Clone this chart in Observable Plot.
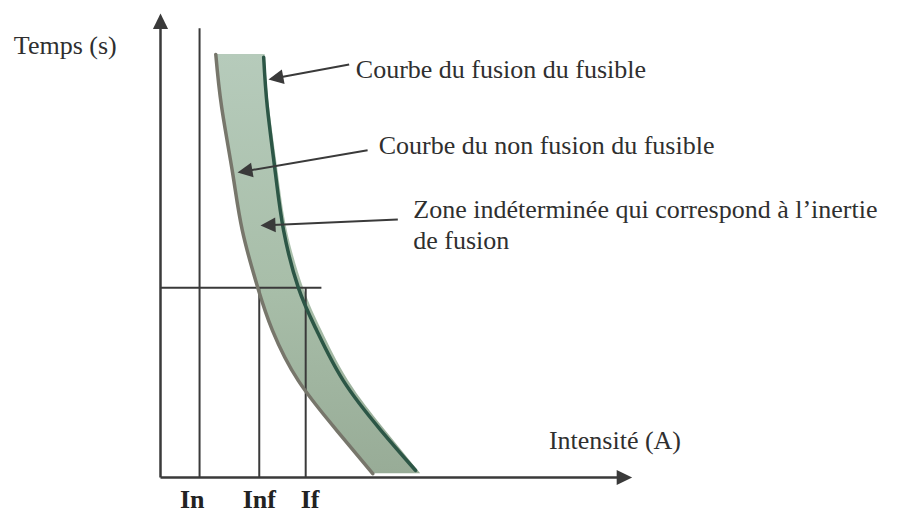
<!DOCTYPE html>
<html>
<head>
<meta charset="utf-8">
<script src="https://cdn.jsdelivr.net/npm/d3@7"></script>
<script src="https://cdn.jsdelivr.net/npm/@observablehq/plot@0.6"></script>
<style>
  html, body { margin: 0; padding: 0; background: #ffffff; }
</style>
</head>
<body>
<div id="chart"></div>
<script>
// ---------- data (arbitrary units: intensité → x, temps → y) ----------
const bandTime    = [8.87, 7.76, 6.37, 5.18, 3.98, 3.08, 2.03, 0.99, 0.08];
const nonFusionI  = [0.75, 0.83, 0.98, 1.11, 1.32, 1.52, 1.87, 2.39, 2.88];
const bandOuterI  = [1.42, 1.48, 1.60, 1.72, 1.94, 2.19, 2.55, 3.05, 3.53];

const fusionTime  = [8.81, 7.76, 6.37, 5.18, 3.98, 3.08, 2.03, 0.99, 0.15];
const fusionI     = [1.40, 1.45, 1.56, 1.67, 1.87, 2.12, 2.48, 2.99, 3.46];

const refNames    = ["In", "Inf", "If"];
const refI        = [0.53, 1.34, 1.97];
const refTop      = [9.41, 3.98, 3.98];
const refLabelI   = [0.43, 1.34, 2.03];
const refLabelT   = -0.63;
const thresholdT  = 3.98;
const thresholdEndI = 2.19;

const axisTipI    = 6.40;
const axisTipT    = 9.73;

const calloutText   = [
  "Courbe du fusion du fusible",
  "Courbe du non fusion du fusible",
  "Zone indéterminée qui correspond à l’inertie\nde fusion"
];
const calloutTextI  = [2.65, 2.96, 3.43];
const calloutTextT  = [8.37, 6.79, 4.80];
const calloutStartI = [2.56, 2.81, 3.22];
const calloutStartT = [8.66, 6.86, 5.41];
const calloutTipI   = [1.465, 1.045, 1.357];
const calloutTipT   = [8.344, 6.394, 5.283];

const axisTitles  = ["Temps (s)", "Intensité (A)"];
const axisTitleI  = [-1.99, 5.27];
const axisTitleT  = [8.87, 0.59];

// ---------- layout ----------
const W = 897, H = 514;
const mL = 160, mR = 0, mT = 0, mB = 37;
const xDom = [0, 10], yDom = [0, 10];
const kx = (W - mL - mR) / (xDom[1] - xDom[0]);
const ky = (H - mT - mB) / (yDom[1] - yDom[0]);

const ink = "#3a3a3a";
const textInk = "#2f2f2f";
const serif = "Liberation Serif, Times New Roman, serif";

// filled arrowhead symbol, tip at the anchor point, pointing up before rotation
const arrowHead = {
  draw(context, size) {
    const r = Math.sqrt(size / Math.PI);
    const L = 2.5 * r, w = 1.22 * r;
    context.moveTo(0, 0);
    context.lineTo(w, L);
    context.lineTo(-w, L);
    context.closePath();
  }
};

function arrowGeom(x0, y0, x1, y1, back) {
  const dx = (x1 - x0) * kx, dy = -(y1 - y0) * ky;
  const len = Math.hypot(dx, dy);
  return {
    x0, y0, x1, y1,
    xb: x1 - (dx / len) * back / kx,
    yb: y1 + (dy / len) * back / ky,
    angle: Math.atan2(dx, -dy) * 180 / Math.PI
  };
}

const band = bandTime.map((t, i) => ({t, lo: nonFusionI[i], hi: bandOuterI[i]}));
const nonFusion = bandTime.map((t, i) => ({t, i: nonFusionI[i]}));
const fusion = fusionTime.map((t, i) => ({t, i: fusionI[i]}));
const refs = refNames.map((name, k) => ({name, i: refI[k], top: refTop[k], li: refLabelI[k]}));
const callouts = calloutText.map((text, k) => ({
  text, tx: calloutTextI[k], ty: calloutTextT[k],
  ...arrowGeom(calloutStartI[k], calloutStartT[k], calloutTipI[k], calloutTipT[k], 12)
}));
const axes = [
  arrowGeom(0, 0, 0, axisTipT, 12),
  arrowGeom(0, 0, axisTipI, 0, 12)
];
const titles = axisTitles.map((text, k) => ({text, x: axisTitleI[k], y: axisTitleT[k]}));

const gradientDefs = () => {
  const defs = d3.create("svg:defs");
  const g = defs.append("linearGradient")
    .attr("id", "bandFill").attr("x1", 0).attr("y1", 0).attr("x2", 0).attr("y2", 1);
  g.append("stop").attr("offset", "0%").attr("stop-color", "#b6cbbb");
  g.append("stop").attr("offset", "55%").attr("stop-color", "#a8bea9");
  g.append("stop").attr("offset", "100%").attr("stop-color", "#98ac97");
  return defs.node();
};

const chart = Plot.plot({
  width: W, height: H,
  marginLeft: mL, marginRight: mR, marginTop: mT, marginBottom: mB,
  x: {domain: xDom, axis: null},
  y: {domain: yDom, axis: null},
  style: {background: "#ffffff", fontFamily: serif, overflow: "visible"},
  marks: [
    gradientDefs,
    // band between the two curves
    Plot.areaX(band, {y: "t", x1: "lo", x2: "hi", fill: "url(#bandFill)", curve: "natural"}),
    // reference lines
    Plot.ruleX(refs, {x: "i", y1: 0, y2: "top", stroke: ink, strokeWidth: 2}),
    Plot.ruleY([thresholdT], {x1: 0, x2: thresholdEndI, stroke: ink, strokeWidth: 2}),
    // curves
    Plot.line(nonFusion, {x: "i", y: "t", stroke: "#77766b", strokeWidth: 3.5, curve: "natural"}),
    Plot.line(fusion, {x: "i", y: "t", stroke: "#2c5646", strokeWidth: 3.5, curve: "natural"}),
    // axes with arrowheads
    Plot.link(axes, {x1: "x0", y1: "y0", x2: "xb", y2: "yb", stroke: ink, strokeWidth: 2.5}),
    Plot.dot(axes, {x: "x1", y: "y1", symbol: arrowHead, r: 6.2, fill: ink, stroke: "none", rotate: "angle"}),
    // callout arrows
    Plot.link(callouts, {x1: "x0", y1: "y0", x2: "xb", y2: "yb", stroke: ink, strokeWidth: 2}),
    Plot.dot(callouts, {x: "x1", y: "y1", symbol: arrowHead, r: 6, fill: ink, stroke: "none", rotate: "angle"}),
    // texts
    Plot.text(callouts, {x: "tx", y: "ty", text: "text", textAnchor: "start", lineAnchor: "bottom",
      lineHeight: 1.16, fontSize: 26, fontFamily: serif, fill: textInk}),
    Plot.text(titles, {x: "x", y: "y", text: "text", textAnchor: "start", lineAnchor: "bottom",
      fontSize: 26, fontFamily: serif, fill: textInk}),
    Plot.text(refs, {x: "li", y: refLabelT, text: "name", textAnchor: "middle", lineAnchor: "bottom",
      fontSize: 26, fontWeight: "bold", fontFamily: serif, fill: "#222"})
  ]
});

document.getElementById("chart").appendChild(chart);
</script>
</body>
</html>
